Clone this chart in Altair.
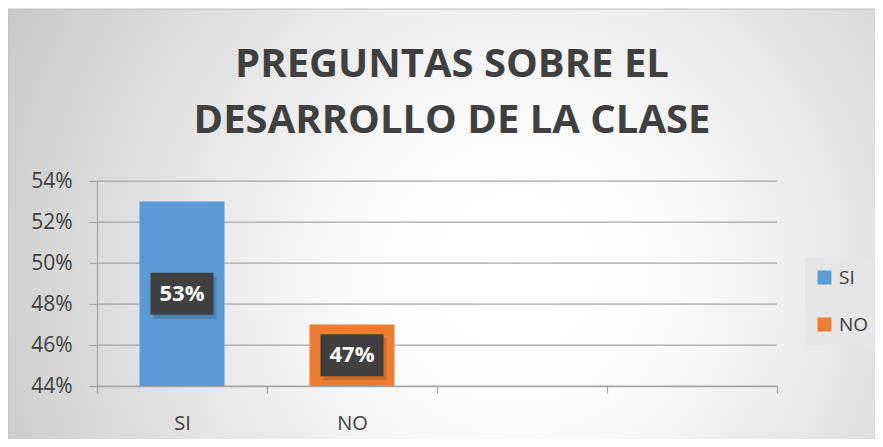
import altair as alt
import pandas as pd

# ---- data ----
categories = ["SI", "NO"]
values = [0.53, 0.47]
blank_slots = [" ", "  "]          # two empty category slots on the x axis
bar_colors = ["#5B9BD5", "#ED7D31"]
y_ticks = [0.44, 0.46, 0.48, 0.50, 0.52, 0.54]
title_lines = ["PREGUNTAS SOBRE EL", "DESARROLLO DE LA CLASE"]

y_min, y_max = 0.44, 0.54

df = pd.DataFrame({"cat": categories, "val": values})
df["base"] = y_min
df["mid"] = (df["val"] + df["base"]) / 2
grid_df = pd.DataFrame({"t": y_ticks})

FONT = "Open Sans"
TXT = "#404040"
GRID = "#A6A6A6"

W, H = 680, 205
PAD = {"left": 89, "top": 173, "right": 98, "bottom": 53}

x_scale = alt.Scale(domain=categories + blank_slots, paddingInner=0, paddingOuter=0)
x_enc = alt.X(
    "cat:N",
    scale=x_scale,
    axis=alt.Axis(
        title=None, labelAngle=0, tickBand="extent", tickSize=7, tickColor=GRID,
        domainColor=GRID, domainWidth=1.25, tickWidth=1.25, labelFont=FONT,
        labelFontSize=20, labelColor=TXT, labelPadding=20, grid=False, zindex=1,
    ),
)
y_scale = alt.Scale(domain=[y_min, y_max], zero=False, nice=False)
y_axis = alt.Axis(
    title=None, format=".0%", values=y_ticks, tickSize=8, tickColor=GRID,
    tickWidth=1.25, grid=False, domainColor=GRID,
    domainWidth=1.25, labelFont=FONT, labelFontSize=21, labelColor=TXT,
    labelPadding=17, zindex=1,
)

bg = alt.Chart(alt.Data(values=[{}])).mark_rect(
    fill=alt.RadialGradient(
        gradient="radial",
        x1=0.58, y1=0.55, r1=0,
        x2=0.58, y2=0.55, r2=0.72,
        stops=[
            alt.GradientStop(offset=0, color="#FFFFFF"),
            alt.GradientStop(offset=0.25, color="#FCFCFC"),
            alt.GradientStop(offset=0.55, color="#E5E5E5"),
            alt.GradientStop(offset=0.85, color="#CDCDCD"),
            alt.GradientStop(offset=1, color="#C2C2C2"),
        ],
    ),
    stroke="#BFBFBF", strokeWidth=1,
).encode(
    x=alt.value(-PAD["left"]), x2=alt.value(W + PAD["right"] + 10),
    y=alt.value(-PAD["top"] + 1), y2=alt.value(H + PAD["bottom"] + 10),
)

title = alt.Chart(alt.Data(values=[{}])).mark_text(
    font=FONT, fontSize=40, fontWeight="bold", color=TXT, align="center",
    baseline="top", lineHeight=56,
).encode(
    x=alt.value(W / 2 + 15), y=alt.value(-136), text=alt.value(title_lines),
)

grid = alt.Chart(grid_df).mark_rule(color=GRID, strokeWidth=1.25).encode(
    y=alt.Y("t:Q", scale=y_scale),
)

bars = alt.Chart(df).mark_bar(width=85).encode(
    x=x_enc,
    y=alt.Y("val:Q", scale=y_scale, axis=y_axis),
    y2="base:Q",
    color=alt.Color(
        "cat:N",
        scale=alt.Scale(domain=categories, range=bar_colors),
        legend=alt.Legend(
            title=None, orient="none", legendX=708, legendY=77,
            fillColor="#E6E6E6", padding=10, symbolType="square",
            symbolSize=196, symbolStrokeWidth=0, symbolOpacity=1,
            labelFont=FONT, labelFontSize=19, labelColor=TXT,
            rowPadding=27, labelOffset=5,
        ),
    ),
)

box_path = "M-1.5,-1L1.5,-1L1.5,1L-1.5,1Z"

shadow = alt.Chart(df).mark_point(
    shape=box_path, filled=True, size=1764, color="#000000", opacity=0.15,
    xOffset=3, yOffset=4,
).encode(x=alt.X("cat:N", scale=x_scale), y=alt.Y("mid:Q"))

boxes = alt.Chart(df).mark_point(
    shape=box_path, filled=True, size=1764, color="#404040", opacity=1,
).encode(x=alt.X("cat:N", scale=x_scale), y=alt.Y("mid:Q"))

labels = alt.Chart(df).mark_text(
    font=FONT, fontSize=22, fontWeight="bold", color="#FFFFFF",
    baseline="middle", align="center",
).encode(x=alt.X("cat:N", scale=x_scale), y=alt.Y("mid:Q"),
         text=alt.Text("val:Q", format=".0%"))

chart = alt.layer(bg, title, grid, bars, shadow, boxes, labels).properties(
    width=W, height=H,
    autosize=alt.AutoSizeParams(type="none"),
    padding=PAD,
).configure_view(stroke=None).configure(background="#FFFFFF")

chart.save("out.html", embed_options={"renderer": "svg", "actions": False})
